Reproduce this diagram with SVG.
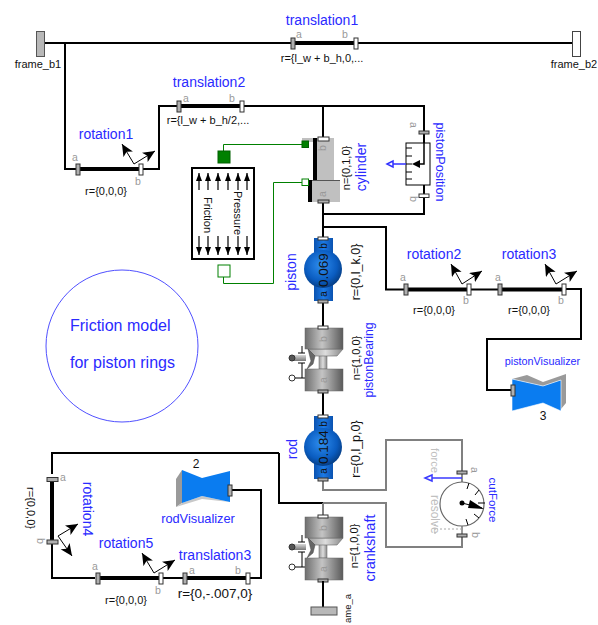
<svg xmlns="http://www.w3.org/2000/svg" width="598" height="625" viewBox="0 0 598 625">
<style>
text{font-family:"Liberation Sans",Arial,sans-serif}
.w{fill:none;stroke:#000;stroke-width:2}
.g{fill:none;stroke:#808080;stroke-width:2}
.gr{fill:none;stroke:#008000;stroke-width:1}
.rod{stroke:#000;stroke-width:4;fill:none}
.fa{fill:#b0b0b0;stroke:#333;stroke-width:1}
.fb{fill:#fff;stroke:#333;stroke-width:1}
.name{font-size:14px;fill:#2a2aff}
.par{font-size:11px;fill:#111}
.ab{font-size:10.5px;fill:#999}
.axis{fill:none;stroke:#000;stroke-width:1;marker-end:url(#big)}
.small{fill:none;stroke:#000;stroke-width:1.2;marker-end:url(#sm)}
.tick{stroke:#000;stroke-width:1;fill:none}
</style>
<defs>
<marker id="big" markerUnits="userSpaceOnUse" markerWidth="14" markerHeight="12" refX="12" refY="5.500" orient="auto"><path d="M0 0L12 5.500L0 11L3 5.500Z" fill="#000"/></marker>
<marker id="sm" markerUnits="userSpaceOnUse" markerWidth="9" markerHeight="8" refX="8" refY="3" orient="auto"><path d="M0 0L8 3L0 6Z" fill="#000"/></marker>
<linearGradient id="body" x1="0" y1="0" x2="1" y2="0"><stop offset="0" stop-color="#6e6e6e"/><stop offset=".45" stop-color="#c4c4c4"/><stop offset="1" stop-color="#5a5a5a"/></linearGradient>
<linearGradient id="cap" x1="0" y1="0" x2="0" y2="1"><stop offset="0" stop-color="#d8d8d8"/><stop offset="1" stop-color="#777"/></linearGradient>
<linearGradient id="neck" x1="0" y1="0" x2="1" y2="0"><stop offset="0" stop-color="#999"/><stop offset=".5" stop-color="#ddd"/><stop offset="1" stop-color="#888"/></linearGradient>
<radialGradient id="ball" cx=".45" cy=".4" r=".6"><stop offset="0" stop-color="#2f8ef0"/><stop offset=".7" stop-color="#0a5cc0"/><stop offset="1" stop-color="#063f86"/></radialGradient>
<linearGradient id="tube" x1="0" y1="0" x2="1" y2="0"><stop offset="0" stop-color="#0a52b0"/><stop offset=".5" stop-color="#1c7ae6"/><stop offset="1" stop-color="#0a52b0"/></linearGradient>
<g id="bearing">
<rect x="-4" y="21" width="8" height="20" fill="url(#neck)" stroke="#777" stroke-width=".6"/>
<path d="M-15 21H20L14 28H-8Z" fill="url(#neck)" stroke="#666" stroke-width=".6"/>
<path d="M-15 21L-8 28L-10 36L-16 41L-12 33Z" fill="#666" stroke="#444" stroke-width=".5"/>
<rect x="-31" y="27" width="14" height="6" fill="url(#cap)"/>
<circle cx="-31" cy="30" r="3" fill="#555" stroke="#333"/>
<path class="tick" d="M-21 18V25M-25 25H-18M-25 35H-18M-21 35V50"/>
<circle cx="-31" cy="50" r="3" fill="#fff" stroke="#333"/>
<path class="tick" d="M-28 50H-18"/>
<rect x="-18" y="0" width="38" height="21" fill="url(#body)" stroke="#666" stroke-width=".5"/>
<rect x="-18" y="41" width="38" height="22" fill="url(#body)" stroke="#666" stroke-width=".5"/>
<rect x="-5" y="-2" width="10" height="3" class="fb"/>
<rect x="-5" y="62" width="10" height="3" class="fa"/>
<text x="4" y="11" class="ab" transform="rotate(-90 4 11)" text-anchor="middle">b</text>
<text x="4" y="52" class="ab" transform="rotate(-90 4 52)" text-anchor="middle">a</text>
</g>
</defs>

<g id="connectors">
<path class="w" d="M44 43H572M65 43V169H78M141 169H159V106H179M242 106H424V131M323 106V137M424 198V214H323M323 203V237M323 227H386V289.500H405M469 289.500H500M564 289H581V339H487V390H512"/>
<path class="w" d="M323 303V326M323 393V415M279 453H52V474M52 542V578H95M161 578H185M248 578H261V490H232M279 453V503H323"/>
<path class="g" d="M323 481V490H386V440H462V471M323 503V515M323 503H386V547H462V537"/>
<path class="gr" d="M223.500 151V144.500H302M223.500 277V283.500H273.500V182.500H302"/>
</g>

<g id="frame_b1"><rect x="36.500" y="31.500" width="8" height="25" fill="#b8b8b8" stroke="#555"/><text x="38" y="68" class="par" text-anchor="middle">frame_b1</text></g>
<g id="frame_b2"><rect x="572.500" y="31.500" width="8" height="25" fill="#fff" stroke="#444"/><text x="574" y="68" class="par" text-anchor="middle">frame_b2</text></g>

<g id="translation1"><path class="rod" d="M293 43H356"/><rect x="291" y="38" width="4" height="11" class="fa"/><rect x="354" y="38" width="4" height="11" class="fb"/>
<text x="322" y="25" class="name" text-anchor="middle">translation1</text><text x="299" y="38" class="ab" text-anchor="middle">a</text><text x="345" y="38" class="ab" text-anchor="middle">b</text><text x="322" y="62" class="par" text-anchor="middle">r={l_w + b_h,0,...</text></g>

<g id="translation2"><path class="rod" d="M179 106H242"/><rect x="177" y="101" width="4" height="11" class="fa"/><rect x="240" y="101" width="4" height="11" class="fb"/>
<text x="209" y="87" class="name" text-anchor="middle">translation2</text><text x="186" y="102" class="ab" text-anchor="middle">a</text><text x="232" y="102" class="ab" text-anchor="middle">b</text><text x="208" y="124" class="par" text-anchor="middle">r={l_w + b_h/2,...</text></g>

<g id="rotation1"><path class="rod" d="M78 169H141"/><rect x="76" y="164" width="4" height="11" class="fa"/><rect x="139" y="164" width="4" height="11" class="fb"/>
<path class="axis" d="M134 164L122 144"/><path class="axis" d="M134 164L155 151"/>
<text x="106" y="139" class="name" text-anchor="middle">rotation1</text><text x="75" y="161" class="ab" text-anchor="middle">a</text><text x="138" y="185" class="ab" text-anchor="middle">b</text><text x="106" y="195" class="par" text-anchor="middle">r={0,0,0}</text></g>

<g id="cylinder">
<rect x="302" y="138" width="15" height="4" fill="#c0c0c0"/>
<rect x="317" y="138" width="17" height="42" fill="#c0c0c0"/>
<rect x="313" y="138" width="4" height="42" fill="#000"/>
<rect x="312" y="180" width="28" height="22" fill="#c0c0c0"/>
<path d="M312 180.500H340" stroke="#555" fill="none"/>
<rect x="308" y="180" width="4" height="22" fill="#000"/>
<rect x="318" y="137" width="11" height="4" class="fb"/>
<rect x="318" y="200" width="11" height="3" class="fa"/>
<rect x="302" y="141" width="6.500" height="6.500" fill="#008000" stroke="#006000"/>
<rect x="302" y="179" width="6.500" height="6.500" fill="#fff" stroke="#008000"/>
<text x="326" y="148" class="ab" transform="rotate(-90 326 148)" text-anchor="middle">b</text>
<text x="326" y="194" class="ab" transform="rotate(-90 326 194)" text-anchor="middle">a</text>
<text x="350" y="168" class="par" transform="rotate(-90 350 168)" text-anchor="middle">n={0,1,0}</text>
<text x="366" y="167" class="name" transform="rotate(-90 366 167)" text-anchor="middle">cylinder</text>
</g>

<g id="pressure">
<rect x="218" y="151" width="12" height="12" fill="#008000" stroke="#006000"/>
<rect x="218" y="265" width="12" height="12" fill="#fff" stroke="#008000"/>
<rect x="192" y="168" width="62" height="91" fill="#fff" stroke="#000" stroke-width="2"/>
<path class="small" d="M199 190V173"/><path class="small" d="M208 190V173"/><path class="small" d="M218 190V173"/><path class="small" d="M228 190V173"/><path class="small" d="M238 190V173"/><path class="small" d="M247 190V173"/>
<path class="small" d="M199 236V255"/><path class="small" d="M208 236V255"/><path class="small" d="M218 236V255"/><path class="small" d="M228 236V255"/><path class="small" d="M238 236V255"/><path class="small" d="M247 236V255"/>
<text x="204" y="215" class="par" transform="rotate(90 204 215)" text-anchor="middle">Friction</text>
<text x="234" y="213" class="par" transform="rotate(90 234 213)" text-anchor="middle">Pressure</text>
</g>

<g id="pistonPosition">
<rect x="406" y="143" width="24" height="42" fill="#fff" stroke="#000"/>
<path class="tick" d="M406 148H412M406 156H412M406 164H412M406 172H412M406 179H412"/>
<path class="w" d="M424 134V143M424 185V194"/>
<path d="M424 143V164H419" fill="none" stroke="#000" stroke-width="1.500"/>
<path d="M420 160V168L412 164Z" fill="#000"/>
<path d="M406 164H393" stroke="#3030ff" stroke-width="1.500" fill="none"/>
<path d="M393 161V167L387 164Z" fill="#fff" stroke="#3030ff" stroke-width="1.500"/>
<rect x="419" y="131" width="10" height="3" class="fa"/>
<rect x="419" y="194" width="10" height="3.500" class="fb"/>
<text x="410" y="125" class="ab" transform="rotate(90 410 125)" text-anchor="middle">a</text>
<text x="410" y="199" class="ab" transform="rotate(90 410 199)" text-anchor="middle">b</text>
<text x="436" y="162" font-size="12.700" fill="#2a2aff" transform="rotate(90 436 162)" text-anchor="middle">pistonPosition</text>
</g>

<g id="piston">
<rect x="314" y="238" width="19" height="63" fill="url(#tube)"/>
<circle cx="323" cy="269" r="19" fill="url(#ball)"/>
<rect x="318" y="237" width="10" height="3" class="fb"/>
<rect x="318" y="300" width="10" height="3" class="fa"/>
<text x="328" y="270" font-size="13.500" fill="#111" transform="rotate(-90 328 270)" text-anchor="middle">0.069</text>
<text x="327" y="294" font-size="10" fill="#111" transform="rotate(-90 327 294)" text-anchor="middle">a</text>
<text x="327" y="246" font-size="10" fill="#111" transform="rotate(-90 327 246)" text-anchor="middle">b</text>
<text x="296" y="272" class="name" transform="rotate(-90 296 272)" text-anchor="middle">piston</text>
<text x="360" y="272" font-size="12.500" fill="#111" transform="rotate(-90 360 272)" text-anchor="middle">r={0,l_k,0}</text>
</g>

<g id="pistonBearing">
<use href="#bearing" x="323" y="328"/>
<text x="360" y="358" class="par" transform="rotate(-90 360 358)" text-anchor="middle">n={1,0,0}</text>
<text x="373" y="360" font-size="12.300" fill="#2a2aff" transform="rotate(-90 373 360)" text-anchor="middle">pistonBearing</text>
</g>

<g id="rod">
<rect x="314" y="416" width="19" height="63" fill="url(#tube)"/>
<circle cx="323" cy="447" r="19" fill="url(#ball)"/>
<rect x="318" y="415" width="10" height="3" class="fb"/>
<rect x="318" y="478" width="10" height="3" class="fa"/>
<text x="328" y="447" font-size="13.500" fill="#111" transform="rotate(-90 328 447)" text-anchor="middle">0.184</text>
<text x="327" y="471" font-size="10" fill="#111" transform="rotate(-90 327 471)" text-anchor="middle">a</text>
<text x="327" y="424" font-size="10" fill="#111" transform="rotate(-90 327 424)" text-anchor="middle">b</text>
<text x="297" y="449" class="name" transform="rotate(-90 297 449)" text-anchor="middle">rod</text>
<text x="360" y="449" font-size="12.500" fill="#111" transform="rotate(-90 360 449)" text-anchor="middle">r={0,l_p,0}</text>
</g>

<g id="crankshaft">
<use href="#bearing" x="323" y="517"/>
<path class="w" d="M323 581V607"/>
<rect x="311" y="607" width="26" height="8" fill="#b8b8b8" stroke="#555"/>
<text x="351" y="594" font-size="9.500" fill="#111" transform="rotate(-90 351 594)" text-anchor="end">ame_a</text>
<text x="358" y="546" class="par" transform="rotate(-90 358 546)" text-anchor="middle">n={1,0,0}</text>
<text x="375" y="548" font-size="14.500" fill="#2a2aff" transform="rotate(-90 375 548)" text-anchor="middle">crankshaft</text>
</g>

<g id="rotation2"><path class="rod" d="M406 289.500H469"/><rect x="404" y="284" width="4" height="11" class="fa"/><rect x="467" y="284" width="4" height="11" class="fb"/>
<path class="axis" d="M462 284L451 264"/><path class="axis" d="M462 284L482 271"/>
<text x="434" y="259" class="name" text-anchor="middle">rotation2</text><text x="403" y="281" class="ab" text-anchor="middle">a</text><text x="466" y="304" class="ab" text-anchor="middle">b</text><text x="434" y="314" class="par" text-anchor="middle">r={0,0,0}</text></g>
<g id="rotation3"><path class="rod" d="M500 289.500H564"/><rect x="498" y="284" width="4" height="11" class="fa"/><rect x="562" y="284" width="4" height="11" class="fb"/>
<path class="axis" d="M556 284L545 264"/><path class="axis" d="M556 284L577 271"/>
<text x="529" y="259" class="name" text-anchor="middle">rotation3</text><text x="498" y="281" class="ab" text-anchor="middle">a</text><text x="561" y="304" class="ab" text-anchor="middle">b</text><text x="529" y="314" class="par" text-anchor="middle">r={0,0,0}</text></g>

<g id="pistonVisualizer">
<path d="M512 379L527 375L543 382L566 374V403L561 409V380L543 386Z" fill="#9a9a9a"/>
<path d="M512 379L543 386L561 380V411L543 403L512 411Z" fill="#0a7cf0" stroke="#fff" stroke-width=".6"/>
<rect x="511" y="385" width="4" height="11" class="fa"/>
<text x="542.500" y="365" font-size="10.800" fill="#2a2aff" text-anchor="middle">pistonVisualizer</text>
<text x="543" y="420" font-size="12" fill="#111" text-anchor="middle">3</text>
</g>

<g id="cutForce">
<circle cx="462" cy="504" r="22" fill="#fff" stroke="#666" stroke-width="1.200"/>
<path class="tick" d="M469 483L467 489M479 490L475 495M485 503H478M479 518L474 514M468 525L466 519"/>
<path d="M462 503L482 508" stroke="#000" stroke-width="1"/>
<path d="M470 500L484 509L468 508Z" fill="#000"/>
<circle cx="462" cy="503" r="2.500" fill="#000"/>
<path d="M462 474V482" stroke="#666" stroke-width="1.500"/>
<path d="M462 526V534" stroke="#777" stroke-width="1.500"/>
<path d="M462 478H432" stroke="#3a3aff" stroke-width="1.500"/>
<path d="M432 475V481L425 478Z" fill="#fff" stroke="#3a3aff" stroke-width="1.500"/>
<path d="M462 529H437M435 524V535" stroke="#aaa" stroke-width="1" stroke-dasharray="2 2" fill="none"/>
<text x="431" y="448" font-size="11.300" fill="#c0c0c0" transform="rotate(90 431 448)">force</text>
<text x="431" y="495" font-size="12" fill="#c0c0c0" transform="rotate(90 431 495)">resolve</text>
<rect x="457" y="471" width="10" height="3" class="fa"/>
<rect x="457" y="534" width="10" height="3" class="fa"/>
<text x="471" y="470" class="ab" transform="rotate(90 471 470)" text-anchor="middle">a</text>
<text x="472" y="535" class="ab" transform="rotate(90 472 535)" text-anchor="middle">b</text>
<text x="489" y="500" font-size="11.600" fill="#2a2aff" transform="rotate(90 489 500)" text-anchor="middle">cutForce</text>
</g>

<g id="rotation4"><path class="rod" d="M52 479V542"/><rect x="47" y="477.500" width="11" height="4" class="fa"/><rect x="47" y="540" width="11" height="4" class="fa"/>
<path class="axis" d="M58 536L78 524"/><path class="axis" d="M58 536L72 556"/>
<text x="83" y="509" class="name" transform="rotate(90 83 509)" text-anchor="middle">rotation4</text><text x="63" y="481" class="ab" text-anchor="middle">a</text><text x="37" y="541" class="ab" transform="rotate(90 37 541)" text-anchor="middle">b</text><text x="27" y="508" class="par" transform="rotate(90 27 508)" text-anchor="middle">r={0,0,0}</text></g>
<g id="rotation5"><path class="rod" d="M98 578H161"/><rect x="96" y="573" width="4" height="11" class="fa"/><rect x="159" y="573" width="4" height="11" class="fb"/>
<path class="axis" d="M154 573L142 553"/><path class="axis" d="M154 573L175 560"/>
<text x="126" y="548" class="name" text-anchor="middle">rotation5</text><text x="95" y="570" class="ab" text-anchor="middle">a</text><text x="158" y="594" class="ab" text-anchor="middle">b</text><text x="126" y="604" class="par" text-anchor="middle">r={0,0,0}</text></g>
<g id="translation3"><path class="rod" d="M185 578H248"/><rect x="183" y="573" width="4" height="11" class="fa"/><rect x="246" y="573" width="4" height="11" class="fb"/>
<text x="215" y="560" class="name" text-anchor="middle">translation3</text><text x="192" y="574" class="ab" text-anchor="middle">a</text><text x="238" y="574" class="ab" text-anchor="middle">b</text><text x="215" y="598" font-size="13.500" fill="#111" text-anchor="middle">r={0,-.007,0}</text></g>
<g id="rodVisualizer">
<path d="M182 470L176 479V507L182 503Z" fill="#9a9a9a"/>
<path d="M176 507L202 499L230 502L202 496L182 503Z" fill="#c8c8c8"/>
<path d="M182 470L202 478L230 471V502L202 496L182 503Z" fill="#0a7cf0"/>
<rect x="228" y="485" width="4" height="11" class="fa"/>
<text x="196" y="468" font-size="12" fill="#111" text-anchor="middle">2</text>
<text x="198" y="523" font-size="12.800" fill="#2a2aff" text-anchor="middle">rodVisualizer</text>
</g>

<g id="frictionNote">
<circle cx="122" cy="346" r="76" fill="#fff" stroke="#5050ff" stroke-width="1"/>
<text x="70" y="331" font-size="16" fill="#2a2aff">Friction model</text>
<text x="70" y="368" font-size="16" fill="#2a2aff">for piston rings</text>
</g>
</svg>
